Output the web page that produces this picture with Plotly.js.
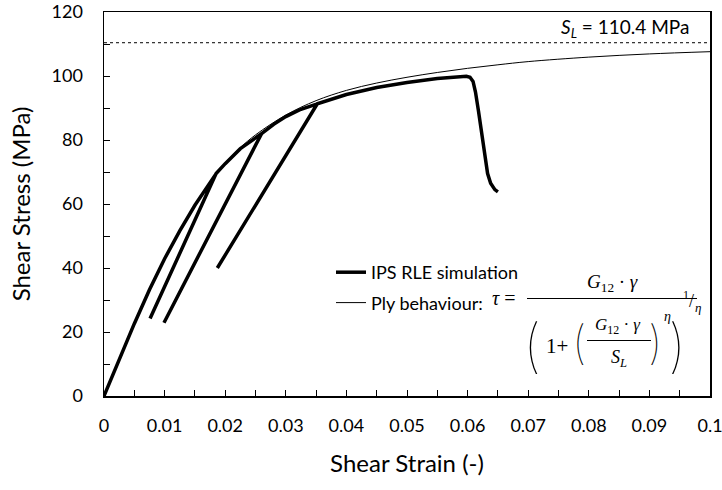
<!DOCTYPE html>
<html>
<head>
<meta charset="utf-8">
<script src="https://cdn.plot.ly/plotly-3.0.1.min.js"></script>
<style>html,body{margin:0;padding:0;background:#fff;}#chart{width:722px;height:490px;}</style>
</head>
<body>
<div id="chart"></div>
<script>
// Ply behaviour curve
const plyStrain = [0, 0.0025, 0.005, 0.0075, 0.01, 0.0125, 0.015, 0.0175, 0.02, 0.0225, 0.025, 0.03, 0.035, 0.04, 0.045, 0.05, 0.055, 0.06, 0.065, 0.07, 0.08, 0.09, 0.1];
const plyStress = [0, 11.5, 22.8, 33.4, 43.1, 51.8, 59.8, 66.8, 72.7, 77.6, 81.6, 87.8, 92.3, 95.5, 97.8, 99.6, 101.1, 102.4, 103.5, 104.5, 105.9, 106.9, 107.6];

// IPS RLE simulation (loading / unloading / reloading path)
const ipsStrain = [0, 0.0025, 0.005, 0.0075, 0.01, 0.0125, 0.015, 0.0185,
  0.0076, 0.0185, 0.02, 0.0225, 0.026,
  0.0099, 0.026, 0.028, 0.03, 0.0325, 0.0352,
  0.0187, 0.0352, 0.04, 0.045, 0.05, 0.055, 0.0598, 0.0604, 0.0609, 0.0613, 0.0618, 0.0623, 0.0628, 0.0633, 0.0638, 0.0645, 0.065];
const ipsStress = [0, 11.4, 22.6, 33.2, 42.9, 51.6, 59.6, 69.5,
  24.2, 69.5, 72.6, 77.3, 82.0,
  22.9, 82.0, 84.9, 87.3, 89.6, 91.3,
  40.0, 91.3, 94.2, 96.4, 98.0, 99.2, 99.9, 99.6, 98.3, 95.0, 89.0, 82.0, 75.0, 69.5, 66.5, 64.5, 63.8];

const SL = 110.4;
const xTicks = [0, 0.01, 0.02, 0.03, 0.04, 0.05, 0.06, 0.07, 0.08, 0.09, 0.1];
const xTickText = ['0', '0.01', '0.02', '0.03', '0.04', '0.05', '0.06', '0.07', '0.08', '0.09', '0.1'];

const W = 722, H = 490;
const M = {l: 104, r: 12, t: 12, b: 94};
const pw = W - M.l - M.r, ph = H - M.t - M.b;
const P = (px, py) => ({x: (px - M.l) / pw, y: (H - M.b - py) / ph});

const sans = 'Lato, "Open Sans", sans-serif';
const serif = '"Liberation Serif", "DejaVu Serif", serif';

const traces = [
  {x: ipsStrain, y: ipsStress, mode: 'lines', name: 'IPS RLE simulation',
   line: {color: '#000', width: 3.5}, legendgroup: 'a'},
  {x: plyStrain, y: plyStress, mode: 'lines', name: 'Ply behaviour:',
   line: {color: '#000', width: 1, shape: 'spline'}, legendgroup: 'b'}
];

function ann(px, py, text, size, fam, weight) {
  const p = P(px, py);
  return {xref: 'paper', yref: 'paper', x: p.x, y: p.y, text: text,
    showarrow: false, xanchor: 'center', yanchor: 'middle',
    font: {family: fam || serif, size: size, color: '#000', weight: weight || 'normal'}};
}
function hline(x0, x1, py, w) {
  const a = P(x0, py), b = P(x1, py);
  return {type: 'line', xref: 'paper', yref: 'paper', x0: a.x, x1: b.x, y0: a.y, y1: b.y,
    line: {color: '#000', width: w || 1}};
}
const thin = 'Inter, "Noto Sans", sans-serif';

const annotations = [
  ann(625, 28, '<i>S<sub>L</sub></i> = 110.4 MPa', 19, sans),
  ann(503, 298, '<i>τ</i> =', 20),
  ann(612, 283, '<i>G</i><sub>12</sub> · <i>γ</i>', 19),
  ann(532, 345, '(', 58, thin, 100),
  ann(557, 346, '1+', 21),
  ann(579, 342, '(', 46, thin, 100),
  ann(618, 326, '<i>G</i><sub>12</sub> · <i>γ</i>', 17),
  ann(619, 358, '<i>S<sub>L</sub></i>', 18),
  ann(655, 342, ')', 46, thin, 100),
  ann(667, 316, '<i>η</i>', 14),
  ann(677, 345, ')', 58, thin, 100),
  ann(686, 295, '1', 12),
  ann(691, 301, '/', 18),
  ann(698, 307, '<i>η</i>', 13)
];

const shapes = [
  {type: 'line', xref: 'paper', yref: 'y', x0: 0, x1: 1, y0: SL, y1: SL,
   line: {color: '#000', width: 1, dash: 'dot'}},
  hline(527, 697, 298.5, 1),
  hline(587, 651, 340.5, 1)
];

const layout = {
  width: W, height: H,
  margin: M,
  paper_bgcolor: '#fff', plot_bgcolor: '#fff',
  font: {family: sans, color: '#000', size: 18},
  showlegend: true,
  legend: {x: P(331, 254).x, y: P(331, 254).y, xanchor: 'left', yanchor: 'top',
    bgcolor: 'rgba(0,0,0,0)', font: {family: sans, size: 18, color: '#000'},
    traceorder: 'grouped', tracegroupgap: 4},
  xaxis: {range: [0, 0.1], tickvals: xTicks, ticktext: xTickText,
    ticks: 'inside', ticklen: 6, tickwidth: 1, tickcolor: '#000',
    minor: {dtick: 0.005, ticks: 'inside', ticklen: 6, tickwidth: 1, tickcolor: '#000'},
    showline: true, linecolor: '#000', linewidth: 1.5, mirror: true,
    showgrid: false, zeroline: false, ticklabelstandoff: 13, ticklabeloverflow: 'allow',
    tickfont: {family: sans, size: 18, color: '#000'},
    title: {text: 'Shear Strain (-)', font: {family: sans, size: 24, color: '#000'}, standoff: 20}},
  yaxis: {range: [0, 120], dtick: 20, tick0: 0,
    ticks: 'inside', ticklen: 6, tickwidth: 1, tickcolor: '#000',
    minor: {dtick: 10, ticks: 'inside', ticklen: 6, tickwidth: 1, tickcolor: '#000'},
    showline: true, linecolor: '#000', linewidth: 1.5, mirror: true,
    showgrid: false, zeroline: false, ticklabelstandoff: 16, ticklabeloverflow: 'allow',
    tickfont: {family: sans, size: 18, color: '#000'},
    title: {text: 'Shear Stress (MPa)', font: {family: sans, size: 24, color: '#000'}, standoff: 14}},
  annotations: annotations,
  shapes: shapes
};

Plotly.newPlot('chart', traces, layout, {displayModeBar: false, staticPlot: true});
</script>
</body>
</html>
